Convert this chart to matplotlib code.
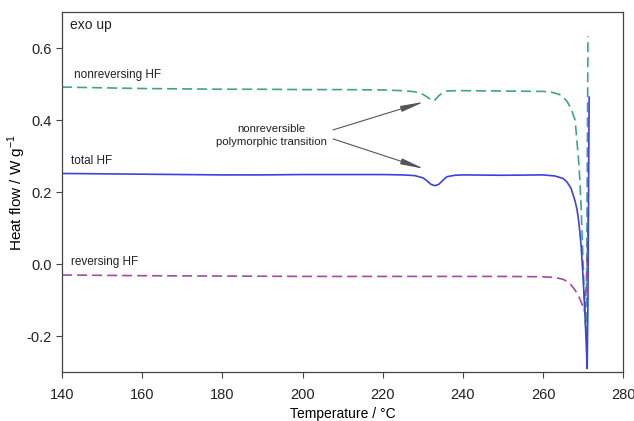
import matplotlib
matplotlib.use("Agg")
from matplotlib import pyplot as plt

plt.rcParams['font.family'] = ['Liberation Sans', 'DejaVu Sans']
plt.rcParams['mathtext.fontset'] = 'custom'
plt.rcParams['mathtext.rm'] = 'Liberation Sans'
plt.rcParams['text.color'] = '#222222'

# total heat flow (solid)
t_total = [140, 150, 160, 170, 180, 190, 200, 210, 220, 225, 228, 230, 231, 232, 233,
           234, 235, 236, 238, 240, 250, 260, 263, 265, 266, 267, 268, 268.5, 269,
           269.5, 270, 270.5, 270.8, 271.0, 271.2, 271.4, 271.5]
hf_total = [0.252, 0.251, 0.250, 0.249, 0.248, 0.248, 0.249, 0.249, 0.249, 0.248, 0.246,
            0.240, 0.232, 0.222, 0.218, 0.222, 0.233, 0.243, 0.247, 0.248, 0.247, 0.248,
            0.245, 0.238, 0.228, 0.210, 0.175, 0.150, 0.110, 0.050, -0.040, -0.150,
            -0.230, -0.290, -0.100, 0.300, 0.464]

# nonreversing component
t_nonrev = [140, 150, 160, 170, 180, 190, 200, 210, 220, 225, 228, 230, 231, 232, 232.5,
            233, 234, 235, 236, 238, 240, 250, 260, 262, 264, 265, 266, 267, 268, 269,
            269.5, 270, 270.5, 270.8, 271.0, 271.2]
hf_nonrev = [0.492, 0.490, 0.488, 0.487, 0.486, 0.486, 0.485, 0.485, 0.484, 0.482, 0.479,
             0.472, 0.465, 0.457, 0.453, 0.456, 0.468, 0.477, 0.481, 0.482, 0.482, 0.481,
             0.480, 0.478, 0.472, 0.465, 0.452, 0.432, 0.400, 0.270, 0.160, 0.000,
             -0.150, -0.200, 0.200, 0.633]

# reversing component
t_rev = [140, 160, 180, 200, 220, 240, 250, 260, 263, 265, 266, 267, 268, 269, 269.5,
         270, 270.3, 270.6, 271.0, 271.3]
hf_rev = [-0.030, -0.032, -0.033, -0.034, -0.034, -0.034, -0.034, -0.035, -0.037, -0.042,
          -0.048, -0.058, -0.072, -0.092, -0.105, -0.120, -0.130, -0.100, 0.000, 0.150]

fig = plt.figure(figsize=(6.34, 4.21), dpi=100)
ax = fig.add_axes([0.098, 0.116, 0.885, 0.855])

ax.plot(t_nonrev, hf_nonrev, color='#3da58a', lw=1.2, dashes=(6, 3))
ax.plot(t_rev, hf_rev, color='#a04ba3', lw=1.2, dashes=(6, 3))
ax.plot(t_total, hf_total, color='#4040e0', lw=1.2)

ax.set_xlim(140, 280)
ax.set_ylim(-0.3, 0.7)
ax.set_xticks([140, 160, 180, 200, 220, 240, 260, 280])
ax.set_yticks([-0.2, 0.0, 0.2, 0.4, 0.6])
ax.set_yticklabels(['-0.2', '0.0', '0.2', '0.4', '0.6'])
ax.tick_params(direction='out', length=4, labelsize=10.5, color='#444444',
               labelcolor='#222222')
ax.tick_params(axis='x', pad=7.5)
for s in ax.spines.values():
    s.set_color('#444444')
    s.set_linewidth(0.9)

ax.set_xlabel('Temperature / °C', fontsize=10, labelpad=3.5)
ax.set_ylabel('Heat flow / W g$^{-1}$', fontsize=11, labelpad=-1)

ax.text(142.0, 0.665, 'exo up', fontsize=10, va='center')
ax.text(143.0, 0.526, 'nonreversing HF', fontsize=8.5, va='center')
ax.text(142.3, 0.288, 'total HF', fontsize=8.5, va='center')
ax.text(142.3, 0.006, 'reversing HF', fontsize=8.5, va='center')

ax.text(192.3, 0.357, 'nonreversible\npolymorphic transition', fontsize=8.2,
        ha='center', va='center', linespacing=1.45)
arrow = dict(arrowstyle='-|>,head_length=1.4,head_width=0.18', color='#555555',
             lw=0.8, shrinkA=0, shrinkB=0)
ax.annotate('', xy=(230.3, 0.451), xytext=(207.6, 0.373), arrowprops=arrow)
ax.annotate('', xy=(230.3, 0.265), xytext=(207.6, 0.348), arrowprops=arrow)

fig.savefig('out.png', dpi=100)
